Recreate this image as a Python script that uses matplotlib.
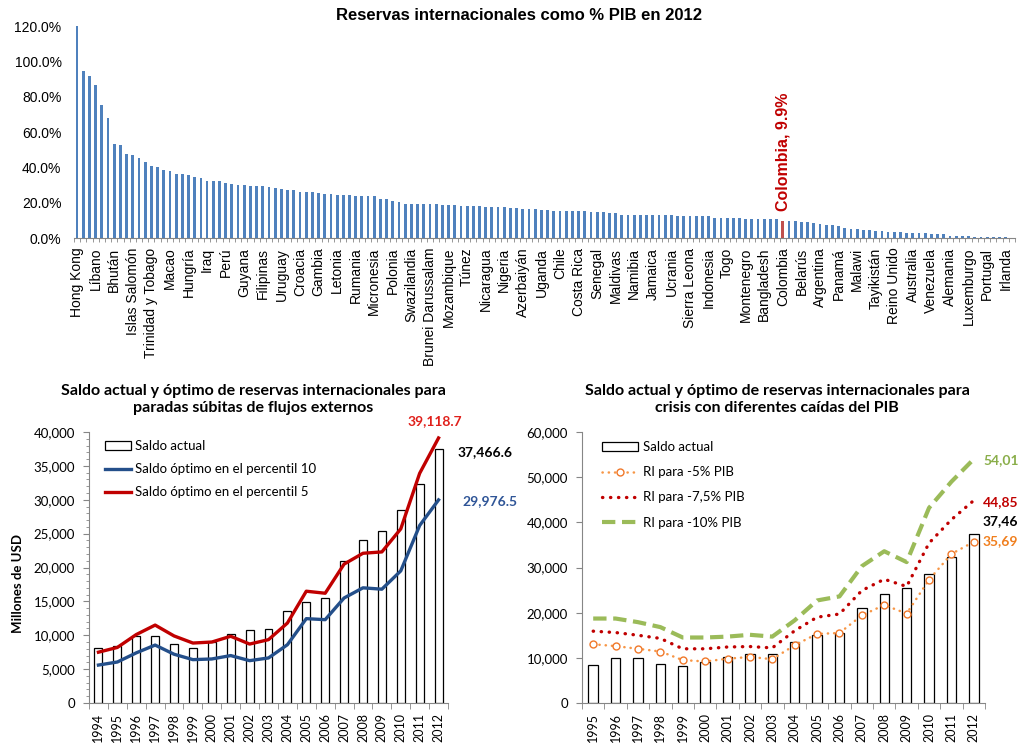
import numpy as np
import matplotlib
matplotlib.use("Agg")
import matplotlib.pyplot as plt
from matplotlib.ticker import FuncFormatter, MultipleLocator

# --- top chart: reserves as % of GDP, 2012 (one label every 3 bars) ---
countries = ["Hong Kong", "Líbano", "Bhután", "Islas Salomón", "Trinidad y Tobago",
             "Macao", "Hungría", "Iraq", "Perú", "Guyana", "Filipinas", "Uruguay",
             "Croacia", "Gambia", "Letonia", "Rumania", "Micronesia", "Polonia",
             "Swazilandia", "Brunei Darussalam", "Mozambique", "Túnez", "Nicaragua",
             "Nigeria", "Azerbaiyán", "Uganda", "Chile", "Costa Rica", "Senegal",
             "Maldivas", "Namibia", "Jamaica", "Ucrania", "Sierra Leona", "Indonesia",
             "Togo", "Montenegro", "Bangladesh", "Colombia", "Belarús", "Argentina",
             "Panamá", "Malawi", "Tayikistán", "Reino Unido", "Australia", "Venezuela",
             "Alemania", "Luxemburgo", "Portugal", "Irlanda"]
pct_gdp = [121.0, 94.4, 91.9, 86.5, 75.2, 68.1, 53.1, 52.7, 47.3, 46.7,
           45.4, 43.2, 40.9, 40.2, 38.5, 37.7, 36.0, 36.0, 35.5, 34.7,
           34.1, 32.5, 32.5, 32.5, 31.3, 30.8, 30.2, 30.2, 29.6, 29.5,
           29.5, 28.9, 28.3, 27.6, 27.0, 27.0, 25.9, 25.9, 25.9, 25.3,
           24.8, 24.8, 24.6, 24.6, 24.6, 24.0, 24.0, 23.5, 23.5, 22.3,
           22.3, 21.2, 20.5, 19.3, 19.3, 19.3, 19.3, 19.3, 19.3, 18.8,
           18.8, 18.8, 18.2, 18.2, 18.2, 18.2, 17.6, 17.6, 17.6, 17.6,
           17.1, 17.1, 16.3, 16.3, 16.3, 15.8, 15.8, 15.2, 15.2, 15.2,
           15.2, 15.2, 15.2, 14.6, 14.6, 14.6, 14.1, 14.1, 13.3, 13.3,
           13.3, 13.3, 13.3, 13.3, 12.8, 12.8, 12.8, 12.2, 12.2, 12.2,
           12.2, 12.2, 12.2, 11.6, 11.6, 11.6, 11.1, 11.1, 10.5, 10.5,
           10.5, 10.5, 10.5, 10.5, 9.9, 9.4, 9.4, 8.8, 8.8, 8.4,
           8.1, 7.5, 7.3, 6.8, 5.4, 4.9, 4.9, 4.3, 4.3, 3.8,
           3.8, 3.2, 3.2, 3.2, 2.6, 2.6, 2.6, 2.6, 2.0, 2.0,
           2.0, 1.3, 1.3, 1.3, 1.3, 0.8, 0.8, 0.8, 0.8, 0.5,
           0.3, 0.2]
colombia_idx = 114

# --- bottom left: stock vs optimal (sudden stops) ---
years_a = ["1994", "1995", "1996", "1997", "1998", "1999", "2000", "2001", "2002", "2003",
           "2004", "2005", "2006", "2007", "2008", "2009", "2010", "2011", "2012"]
saldo_a = [8103, 8452, 9939, 9908, 8740, 8103, 9006, 10192, 10841, 10916,
           13540, 14957, 15440, 20955, 24041, 25365, 28464, 32303, 37466.6]
opt_p10 = [5600, 6050, 7400, 8550, 7200, 6400, 6500, 7000, 6250, 6650,
           8600, 12450, 12300, 15500, 17000, 16800, 19500, 26200, 29976.5]
opt_p5 = [7500, 8200, 10100, 11500, 9900, 8850, 9000, 9850, 8700, 9350,
          11800, 16500, 16200, 20500, 22100, 22300, 25700, 33900, 39118.7]

# --- bottom right: stock vs optimal (GDP falls) ---
years_b = years_a[1:]
saldo_b = saldo_a[1:]
ri_5 = [13000, 12600, 12000, 11400, 9500, 9200, 9800, 10200, 9700, 12800,
        15300, 15500, 19400, 21700, 19800, 27300, 33000, 35690]
ri_75 = [15900, 15600, 15000, 14300, 12000, 12000, 12400, 12500, 12200, 16000,
         19000, 19700, 24900, 27400, 25800, 35400, 40600, 44850]
ri_10 = [18700, 18700, 17900, 16800, 14500, 14500, 14700, 15100, 14700, 18300,
         22700, 23600, 30300, 33600, 31200, 43200, 49000, 54010]

W, H = 1019, 745
fig = plt.figure(figsize=(W / 100, H / 100), dpi=100)


def box(l, t, r, b):
    return [l / W, 1 - b / H, (r - l) / W, (b - t) / H]


grey = "#868686"
arial = "Liberation Sans"
cal = "Lato"
comma = FuncFormatter(lambda v, p: f"{v:,.0f}")

# ---------------- top chart ----------------
ax1 = fig.add_axes(box(74, 26, 1015, 238))
n = len(pct_gdp)
x = np.arange(n)
cols = ["#4F81BD"] * n
cols[colombia_idx] = "#C0504D"
ax1.bar(x, pct_gdp, width=0.45, color=cols)
ax1.set_xlim(-0.5, n - 0.5)
ax1.set_ylim(0, 120)
ax1.set_yticks(range(0, 121, 20))
ax1.yaxis.set_major_formatter(FuncFormatter(lambda v, p: f"{v:.1f}%"))
for s in ["top", "right", "left"]:
    ax1.spines[s].set_visible(False)
ax1.spines["bottom"].set_color(grey)
ax1.tick_params(axis="y", length=0, pad=9)
ax1.set_xticks(x[::3])
ax1.set_xticklabels(countries, rotation=90)
ax1.set_xticks(np.arange(-0.5, n, 1), minor=True)
ax1.tick_params(axis="x", which="major", length=0, pad=7)
ax1.tick_params(axis="x", which="minor", length=3, color=grey)
for lab in ax1.get_xticklabels() + ax1.get_yticklabels():
    lab.set_fontfamily(arial)
    lab.set_fontsize(10)
ax1.text(colombia_idx, 15.5, "Colombia, 9.9%", rotation=90, ha="center", va="bottom",
         color="#C00000", fontweight="bold", fontsize=11.5, family=arial)
fig.text(519 / W, 1 - 16 / H, "Reservas internacionales como % PIB en 2012",
         ha="center", va="center", fontsize=12, fontweight="bold", family=arial)

# ---------------- bottom left ----------------
ax2 = fig.add_axes(box(89, 432, 448, 703))
xa = np.arange(len(years_a))
b2 = ax2.bar(xa, saldo_a, width=0.42, color="white", edgecolor="black", linewidth=0.9,
             label="Saldo actual", zorder=2)
l2a, = ax2.plot(xa, opt_p10, color="#244F8A", lw=2.4, label="Saldo óptimo en el percentil 10", zorder=3)
l2b, = ax2.plot(xa, opt_p5, color="#C00000", lw=2.4, label="Saldo óptimo en el percentil 5", zorder=3)
ax2.set_xlim(-0.5, len(years_a) - 0.5)
ax2.set_ylim(0, 40000)
ax2.yaxis.set_major_locator(MultipleLocator(5000))
ax2.yaxis.set_minor_locator(MultipleLocator(1000))
ax2.yaxis.set_major_formatter(comma)
ax2.set_ylabel("Millones de USD", fontweight="bold", fontsize=9.5, family=cal)
ax2.yaxis.set_label_coords(-0.18, 0.44)

# ---------------- bottom right ----------------
ax3 = fig.add_axes(box(582, 432, 985, 703))
xb = np.arange(len(years_b))
b3 = ax3.bar(xb, saldo_b, width=0.42, color="white", edgecolor="black", linewidth=0.9,
             label="Saldo actual", zorder=2)
l3a, = ax3.plot(xb, ri_5, color="#F79646", lw=1.8, linestyle=(0, (0.1, 2.4)), dash_capstyle="round",
                marker="o", ms=5, mfc="white", mec="#F0782A", mew=1.0, label="RI para -5% PIB", zorder=4)
l3b, = ax3.plot(xb, ri_75, color="#C00000", lw=2.4, linestyle=(0, (0.1, 2.3)), dash_capstyle="round",
                label="RI para -7,5% PIB", zorder=3)
l3c, = ax3.plot(xb, ri_10, color="#9BBB59", lw=3.0, linestyle=(0, (3.2, 1.6)),
                label="RI para -10% PIB", zorder=3)
ax3.set_xlim(-0.5, len(years_b) - 0.5)
ax3.set_ylim(0, 60000)
ax3.yaxis.set_major_locator(MultipleLocator(10000))
ax3.yaxis.set_major_formatter(comma)

for ax, yrs in [(ax2, years_a), (ax3, years_b)]:
    k = np.arange(len(yrs))
    for s in ["top", "right"]:
        ax.spines[s].set_visible(False)
    for s in ["left", "bottom"]:
        ax.spines[s].set_color(grey)
    ax.set_xticks(k)
    ax.set_xticklabels(yrs, rotation=90)
    ax.set_xticks(np.arange(-0.5, len(yrs), 1), minor=True)
    ax.tick_params(axis="x", which="major", length=0, pad=7)
    ax.tick_params(axis="x", which="minor", length=4, color=grey)
    ax.tick_params(axis="y", which="major", length=4, color=grey, pad=6)
    ax.tick_params(axis="y", which="minor", length=2.5, color=grey)
    for lab in ax.get_yticklabels():
        lab.set_fontfamily(cal)
        lab.set_fontsize(9.5)
    for lab in ax.get_xticklabels():
        lab.set_fontfamily(cal)
        lab.set_fontsize(9)

ax2.legend([b2, l2a, l2b], [b2.get_label(), l2a.get_label(), l2b.get_label()],
           loc="upper left", bbox_to_anchor=(105 / W, 1 - 440 / H), bbox_transform=fig.transFigure,
           frameon=False, borderpad=0, borderaxespad=0, handlelength=2.0, handletextpad=0.25,
           labelspacing=0.85, prop={"family": cal, "size": 9.5})
ax3.legend([b3, l3a, l3b, l3c], [b3.get_label(), l3a.get_label(), l3b.get_label(), l3c.get_label()],
           loc="upper left", bbox_to_anchor=(602 / W, 1 - 441 / H), bbox_transform=fig.transFigure,
           frameon=False, borderpad=0, borderaxespad=0, handlelength=2.75, handletextpad=0.35,
           labelspacing=1.0, numpoints=1, prop={"family": cal, "size": 9.5})

# titles
fig.text(253 / W, 1 - 399.5 / H,
         "Saldo actual y óptimo de reservas internacionales para\nparadas súbitas de flujos externos",
         ha="center", va="center", fontsize=11.5, fontweight="bold", family=cal, linespacing=1.35)
fig.text(777 / W, 1 - 399.5 / H,
         "Saldo actual y óptimo de reservas internacionales para\ncrisis con diferentes caídas del PIB",
         ha="center", va="center", fontsize=11.5, fontweight="bold", family=cal, linespacing=1.35)

# end-of-series labels
lab_kw = dict(fontsize=10, fontweight="bold", family=cal, va="center")
fig.text(435 / W, 1 - 421 / H, "39,118.7", color="#E0201B", ha="center", **lab_kw)
fig.text(458 / W, 1 - 452 / H, "37,466.6", color="black", ha="left", **lab_kw)
fig.text(462 / W, 1 - 501 / H, "29,976.5", color="#2F5597", ha="left", **lab_kw)
fig.text(983 / W, 1 - 460 / H, "54,01", color="#8AAE4A", ha="left", **lab_kw)
fig.text(983 / W, 1 - 502 / H, "44,85", color="#C00000", ha="left", **lab_kw)
fig.text(983 / W, 1 - 521 / H, "37,46", color="black", ha="left", **lab_kw)
fig.text(983 / W, 1 - 541 / H, "35,69", color="#F07F1E", ha="left", **lab_kw)

fig.savefig("out.png", dpi=100)
